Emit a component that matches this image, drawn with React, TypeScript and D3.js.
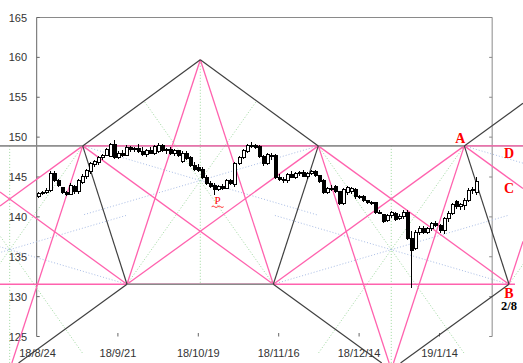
import React from "react";
import * as d3 from "d3";

const W = 523;
const H = 363;

const tickLabels = ["18/8/24", "18/9/21", "18/10/19", "18/11/16", "18/12/14", "19/1/14"];
const tickIndex = [0, 20, 40, 60, 80, 100];
const yTicks = [125, 130, 135, 140, 145, 150, 155, 160, 165];

const open = [142.6,142.9,143.1,143.3,145.5,144.6,143.7,143.1,142.8,143.8,143.2,144.3,145.1,145.7,146.6,146.8,147.4,147.7,147.6,149.1,
147.4,147.9,147.7,148.7,148.4,148.6,148.2,147.8,148.3,148.0,148.2,149.0,148.3,148.5,147.9,148.3,146.9,148.0,147.4,146.5,
146.2,146.0,145.0,144.2,143.9,143.4,143.8,143.6,144.5,144.0,146.7,147.4,148.2,148.9,149.0,148.8,147.6,146.7,147.6,147.7,
145.0,144.7,144.6,145.3,145.0,145.4,145.6,145.1,145.4,145.7,145.2,144.6,143.1,143.6,143.8,143.2,141.7,143.0,143.2,143.4,
142.5,142.6,142.0,141.8,141.8,140.6,140.3,139.5,140.2,140.4,139.8,140.1,140.6,137.3,136.0,138.1,138.6,138.1,138.5,139.2,
138.9,138.3,139.8,140.4,141.9,141.3,141.4,142.1,143.3,143.0];
const high = [143.1,143.3,143.6,145.8,145.7,144.8,143.8,143.3,144.2,144.0,144.8,145.4,146.0,146.9,147.1,147.6,147.9,148.6,149.3,149.6,
148.2,148.4,149.0,148.9,148.8,149.1,148.7,148.5,148.7,149.0,149.3,149.1,148.6,148.7,148.5,148.4,148.2,148.2,147.6,146.9,
146.6,146.3,145.2,144.5,144.2,144.0,144.1,144.7,144.8,146.9,147.6,148.5,149.1,149.4,149.2,149.0,147.8,148.0,148.0,147.9,
145.4,145.0,145.5,145.7,145.6,145.8,145.9,145.6,145.9,145.9,145.3,144.8,143.8,144.0,144.0,143.3,143.6,143.9,143.8,143.6,
142.8,142.8,142.1,142.0,141.9,140.9,140.4,140.4,140.7,140.6,140.3,140.8,140.8,138.2,138.4,138.8,138.9,138.7,139.4,139.5,
139.1,140.0,140.7,141.8,142.1,141.7,142.4,143.6,143.7,145.0];
const low = [142.4,142.7,142.9,143.1,144.4,143.7,142.9,142.6,142.7,142.9,142.9,144.1,144.7,145.4,146.2,146.5,147.1,147.6,147.5,147.2,
147.2,147.5,147.6,148.1,148.1,148.0,147.6,147.5,147.9,147.8,148.0,148.1,147.9,147.7,147.6,147.5,146.7,147.1,146.3,145.8,
145.6,144.8,144.0,143.6,142.7,143.2,143.4,143.5,144.0,143.8,146.5,147.2,148.0,148.6,148.5,147.4,146.4,146.5,147.1,144.7,
144.5,144.3,144.3,144.9,144.7,145.1,145.0,144.8,145.2,145.0,144.2,142.9,142.9,143.2,143.0,141.5,141.5,142.7,142.9,142.3,
142.2,141.9,141.6,141.5,140.4,140.3,139.2,139.3,139.9,139.5,139.6,139.7,137.1,131.1,135.8,137.7,137.9,137.9,138.2,138.7,
138.0,137.8,139.4,140.2,141.0,140.9,140.8,141.9,142.9,142.8];
const close = [142.9,143.1,143.3,145.5,144.6,143.9,143.1,142.8,143.9,143.2,144.5,145.1,145.8,146.7,146.9,147.4,147.7,148.4,149.1,147.4,
147.9,147.7,148.7,148.4,148.6,148.2,147.8,148.3,148.0,148.8,149.0,148.3,148.5,147.9,148.3,147.7,148.0,147.3,146.5,146.0,
145.8,145.0,144.2,143.8,143.4,143.8,143.6,144.5,144.2,146.7,147.4,148.3,148.9,149.0,148.7,147.6,146.7,147.8,147.7,145.0,
144.7,144.6,145.3,145.0,145.4,145.6,145.1,145.4,145.7,145.2,144.4,143.1,143.6,143.4,143.2,141.7,143.4,143.7,143.6,142.5,
142.6,142.1,141.8,141.7,140.6,140.5,139.4,140.2,140.5,139.7,140.1,140.6,137.3,135.8,138.1,138.6,138.1,138.5,139.2,138.9,
138.3,139.8,140.4,141.5,141.3,141.5,142.1,143.3,143.4,144.4];

// Geometry of the overlay (trading-day index, price)
const HIGH = 148.9;
const LOW = 131.55;
const APEX = 159.7;
const P1: [number, number] = [11.24, HIGH];
const P3: [number, number] = [40.5, APEX];
const P5: [number, number] = [69.85, HIGH];
const A: [number, number] = [106.17, HIGH];
const P2: [number, number] = [22.26, LOW];
const P4: [number, number] = [58.66, LOW];
const B: [number, number] = [117.29, LOW];
const PL: [number, number] = [-25.08, HIGH];
const PB: [number, number] = [-36.22, LOW];
const S1: [number, number] = [40.5, 144.56];
const S2: [number, number] = [88.0, 135.89];
const S0: [number, number] = [-6.92, 135.89];
const S3: [number, number] = [135.47, 144.56];
const s1 = 0.366;
const s4 = 1.545;
const FRAME_RIGHT = 113.1;

const x = d3.scaleLinear().domain([0, 100]).range([37.5, 439.5]);
const y = d3.scaleLinear().domain([125, 165]).range([336.5, 17.5]);

type Pt = [number, number];
const xL = x.invert(0);
const xR = x.invert(W);
const pBot = y.invert(H);
const atIdx = (p: Pt, s: number, i: number): Pt => [i, p[1] + s * (i - p[0])];
const atPrice = (p: Pt, s: number, v: number): Pt => [p[0] + (v - p[1]) / s, v];
const mirror = (v: Pt, c: Pt): Pt => [2 * c[0] - v[0], 2 * c[1] - v[1]];

const blackSegs: Pt[][] = [
  [P1, P3], [P3, P5], [P1, P2], [P4, P5], [A, B],
  [P2, atPrice(P2, s1, pBot)], [P4, atPrice(P4, -s1, pBot)],
  [B, atPrice(B, s1, pBot)], [A, atIdx(A, s1, xR)],
];
const pinkSegs: Pt[][] = [
  [[xL, LOW], [x.invert(515), LOW]],
  [P1, P5], [A, [xR, HIGH]],
  [atIdx(P1, s1, xL), P1], [atIdx(P2, -s1, xL), P2],
  [P1, atPrice(P1, s4, pBot)], [P2, P3], [P3, P4], [P1, P4], [P2, P5],
  [P5, B], [P4, A], [P5, atPrice(P5, -s4, pBot)], [A, atPrice(A, s4, pBot)],
  [A, atIdx(A, -s1, xR)], [B, atIdx(B, s4, xR)],
];
const graySegs: Pt[][] = [
  [[xL, HIGH], P1], [P5, A], [P2, P4],
];
const dotSegs: { seg: Pt[]; c: string }[] = [
  { seg: [P1, mirror(P1, S1)], c: "#a9bde6" },
  { seg: [P5, mirror(P5, S1)], c: "#a9bde6" },
  { seg: [P2, [54.49, 154.53]], c: "#9ed89e" },
  { seg: [P4, [26.51, 154.53]], c: "#9ed89e" },
  { seg: [P3, [40.5, LOW]], c: "#9ed89e" },
  { seg: [P5, mirror(P5, S2)], c: "#9ed89e" },
  { seg: [A, mirror(A, S2)], c: "#9ed89e" },
  { seg: [P4, mirror(P4, S2)], c: "#a9bde6" },
  { seg: [B, mirror(B, S2)], c: "#a9bde6" },
  { seg: [[88.0, HIGH], [88.0, pBot]], c: "#9ed89e" },
  { seg: [P1, mirror(P1, S0)], c: "#9ed89e" },
  { seg: [PL, mirror(PL, S0)], c: "#9ed89e" },
  { seg: [P2, mirror(P2, S0)], c: "#a9bde6" },
  { seg: [PB, mirror(PB, S0)], c: "#a9bde6" },
  { seg: [[-6.92, HIGH], [-6.92, pBot]], c: "#9ed89e" },
  { seg: [A, S3], c: "#a9bde6" },
  { seg: [B, S3], c: "#9ed89e" },
];

const pathOf = (s: Pt[]) => `M${x(s[0][0])},${y(s[0][1])}L${x(s[1][0])},${y(s[1][1])}`;

export default function App() {
  const pink = "#ff62ae";
  const dark = "#404040";
  const bw = 3;
  return (
    <div style={{ position: "fixed", left: 0, top: 0 }}>
      <svg width={W} height={H} style={{ display: "block", background: "#fff" }}>
        <rect x={0} y={0} width={W} height={H} fill="#fff" />
        {/* frame */}
        <line x1={x(0) - 0.8} y1={y(165)} x2={x(FRAME_RIGHT)} y2={y(165)} stroke="#8a8a8a" />
        <line x1={x(FRAME_RIGHT)} y1={y(165)} x2={x(FRAME_RIGHT)} y2={y(125)} stroke="#8a8a8a" />
        <line x1={x(0) - 0.8} y1={y(165)} x2={x(0) - 0.8} y2={y(125)} stroke="#666" />
        {yTicks.map((v) => (
          <g key={v}>
            <line x1={x(0) - 0.8} x2={x(0) + 2.2} y1={y(v)} y2={y(v)} stroke="#666" />
            <line x1={x(FRAME_RIGHT) - 3} x2={x(FRAME_RIGHT)} y1={y(v)} y2={y(v)} stroke="#888" />
            <text x={27} y={y(v) + 4} textAnchor="end" fontFamily="Liberation Sans, Arial, sans-serif" fontSize={11} fill="#333">{v}</text>
          </g>
        ))}
        {tickIndex.map((t, k) => (
          <g key={t}>
            {k > 0 && <line x1={x(t)} x2={x(t)} y1={333} y2={336.5} stroke="#666" />}
            <text x={x(t)} y={357} textAnchor="middle" fontFamily="Liberation Sans, Arial, sans-serif" fontSize={11} fill="#333">{tickLabels[k]}</text>
          </g>
        ))}
        {/* dotted fan lines */}
        {dotSegs.map((d, k) => (
          <path key={"d" + k} d={pathOf(d.seg)} stroke={d.c} strokeWidth={1} strokeDasharray="1,2" fill="none" />
        ))}
        {/* horizontals */}
        <line x1={0} x2={W} y1={y(HIGH)} y2={y(HIGH)} stroke="#8a8a8a" strokeWidth={1.2} />
        {pinkSegs.map((s, k) => (
          <path key={"p" + k} d={pathOf(s)} stroke={pink} strokeWidth={1.3} fill="none" />
        ))}
        {graySegs.map((s, k) => (
          <path key={"g" + k} d={pathOf(s)} stroke="#8a8a8a" strokeWidth={1.3} fill="none" />
        ))}
        {blackSegs.map((s, k) => (
          <path key={"b" + k} d={pathOf(s)} stroke={dark} strokeWidth={1.2} fill="none" />
        ))}
        {/* candles */}
        {close.map((c, i) => {
          const o = open[i];
          const up = c >= o;
          const top = y(Math.max(o, c));
          const bot = y(Math.min(o, c));
          const cx = Math.round(x(i)) + 0.5;
          return (
            <g key={"c" + i} shapeRendering="crispEdges">
              <line x1={cx} x2={cx} y1={y(high[i])} y2={y(low[i])} stroke="#000" />
              <rect x={cx - bw / 2} y={top} width={bw} height={Math.max(1, bot - top)} fill={up ? "#fff" : "#000"} stroke="#000" strokeWidth={1} />
            </g>
          );
        })}
        {/* labels */}
        <g fontFamily="Liberation Serif, Times New Roman, serif" fontWeight="bold" fill="#ff0000" fontSize={14} textAnchor="middle">
          <text x={x(A[0]) - 4} y={y(A[1]) - 3}>A</text>
          <text x={509} y={y(HIGH) + 12.5}>D</text>
          <text x={509} y={193}>C</text>
          <text x={509} y={y(LOW) + 13.5}>B</text>
        </g>
        <text x={509} y={y(LOW) + 26} textAnchor="middle" fontFamily="Liberation Serif, Times New Roman, serif" fontWeight="bold" fontSize={12.5} fill="#000">2/8</text>
        <text x={x(44.8)} y={y(LOW) - 80} textAnchor="middle" fontFamily="Liberation Serif, Times New Roman, serif" fontSize={11} fill="#ff0000">P</text>
        <path d={`M${x(44.8) - 6},${y(LOW) - 77.5} q1.5,-1.5 3,0 t3,0 t3,0 t3,0`} stroke="#ff0000" fill="none" strokeWidth={0.8} />
      </svg>
    </div>
  );
}
